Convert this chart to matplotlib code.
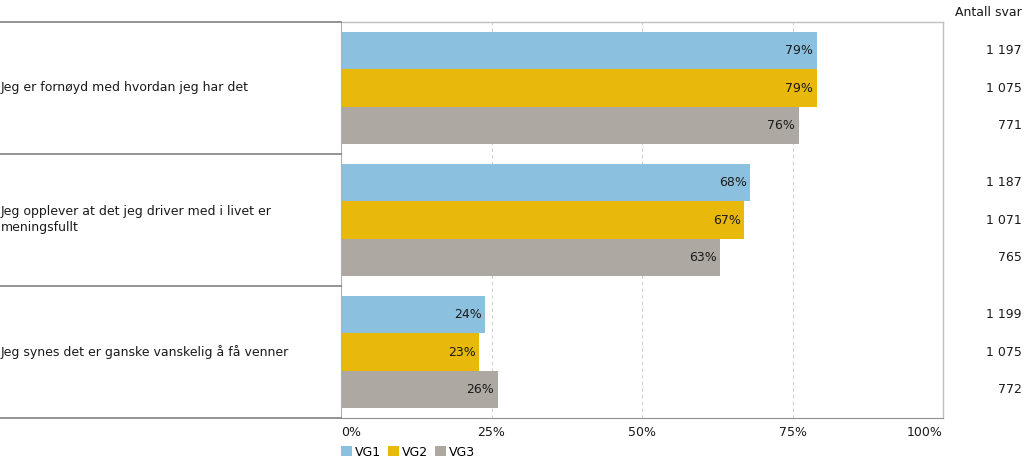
import matplotlib
matplotlib.use("Agg")
import matplotlib.pyplot as plt
from matplotlib.patches import Patch
import numpy as np

categories = ["Jeg er fornøyd med hvordan jeg har det",
              "Jeg opplever at det jeg driver med i livet er\nmeningsfullt",
              "Jeg synes det er ganske vanskelig å få venner"]
series = ["VG1", "VG2", "VG3"]
vg1 = [79, 68, 24]
vg2 = [79, 67, 23]
vg3 = [76, 63, 26]
counts_vg1 = ["1 197", "1 187", "1 199"]
counts_vg2 = ["1 075", "1 071", "1 075"]
counts_vg3 = ["771", "765", "772"]
xticks = [0, 25, 50, 75, 100]
xticklabels = ["0%", "25%", "50%", "75%", "100%"]

colors = ["#8bc0de", "#e8b90a", "#aea8a2"]
plt.rcParams['font.family'] = ['DejaVu Sans']
FS = 9

W, H = 1024, 463
fig = plt.figure(figsize=(W / 100, H / 100), dpi=100)
ax_l, ax_r, ax_t, ax_b = 341, 943, 22, 418
ax = fig.add_axes([ax_l / W, 1 - ax_b / H, (ax_r - ax_l) / W, (ax_b - ax_t) / H])

n = len(categories)
bh = 0.85 / 3
vals = [vg1, vg2, vg3]
counts = [counts_vg1, counts_vg2, counts_vg3]
for s in range(3):
    for i in range(n):
        yc = i - 0.425 + bh * (s + 0.5)
        ax.barh(yc, vals[s][i], height=bh, color=colors[s], edgecolor='none', zorder=2)
        ax.text(vals[s][i] - 0.6, yc, f"{vals[s][i]}%", ha='right', va='center',
                fontsize=FS, color='#1a1a1a', zorder=3)
        ax.text(1022 / W, 1 - (ax_t + (yc + 0.5) / n * (ax_b - ax_t)) / H, counts[s][i],
                transform=fig.transFigure, ha='right', va='center', fontsize=FS, color='#1a1a1a')

ax.set_ylim(n - 0.5, -0.5)
ax.set_xlim(0, 100)
ax.set_yticks([])
ax.set_xticks(xticks)
ax.set_xticklabels(xticklabels, fontsize=FS, color='#1a1a1a')
ax.tick_params(axis='x', length=0, pad=6)
labs = ax.get_xticklabels()
labs[0].set_horizontalalignment('left')
labs[-1].set_horizontalalignment('right')
for x in [25, 50, 75]:
    ax.axvline(x, color='#d0d0d0', linestyle=(0, (3, 3)), linewidth=0.8, zorder=1)
for side in ['top', 'right']:
    ax.spines[side].set_color('#c0c0c0')
    ax.spines[side].set_linewidth(1)
ax.spines['left'].set_color('#b0b0b0')
ax.spines['bottom'].set_color('#909090')

# left label box
for k in range(n + 1):
    yy = 1 - (ax_t + k * (ax_b - ax_t) / n) / H
    fig.add_artist(plt.Line2D([0, ax_l / W], [yy, yy], color='#808080', linewidth=1.2,
                              transform=fig.transFigure))
for i, c in enumerate(categories):
    yy = 1 - (ax_t + (i + 0.5) * (ax_b - ax_t) / n) / H
    fig.text(1 / W, yy, c, ha='left', va='center', fontsize=FS, color='#1a1a1a', linespacing=1.3)

fig.text(1022 / W, 1 - 12 / H, "Antall svar", ha='right', va='center', fontsize=FS, color='#1a1a1a')

handles = [Patch(facecolor=colors[s], edgecolor='none', label=series[s]) for s in range(3)]
fig.legend(handles=handles, loc='center left', bbox_to_anchor=(341 / W, 1 - 452 / H),
           ncol=3, frameon=False, fontsize=FS, handlelength=0.9, handleheight=0.9,
           handletextpad=0.25, columnspacing=0.5, borderaxespad=0, borderpad=0)

fig.savefig("out.png", dpi=100)
